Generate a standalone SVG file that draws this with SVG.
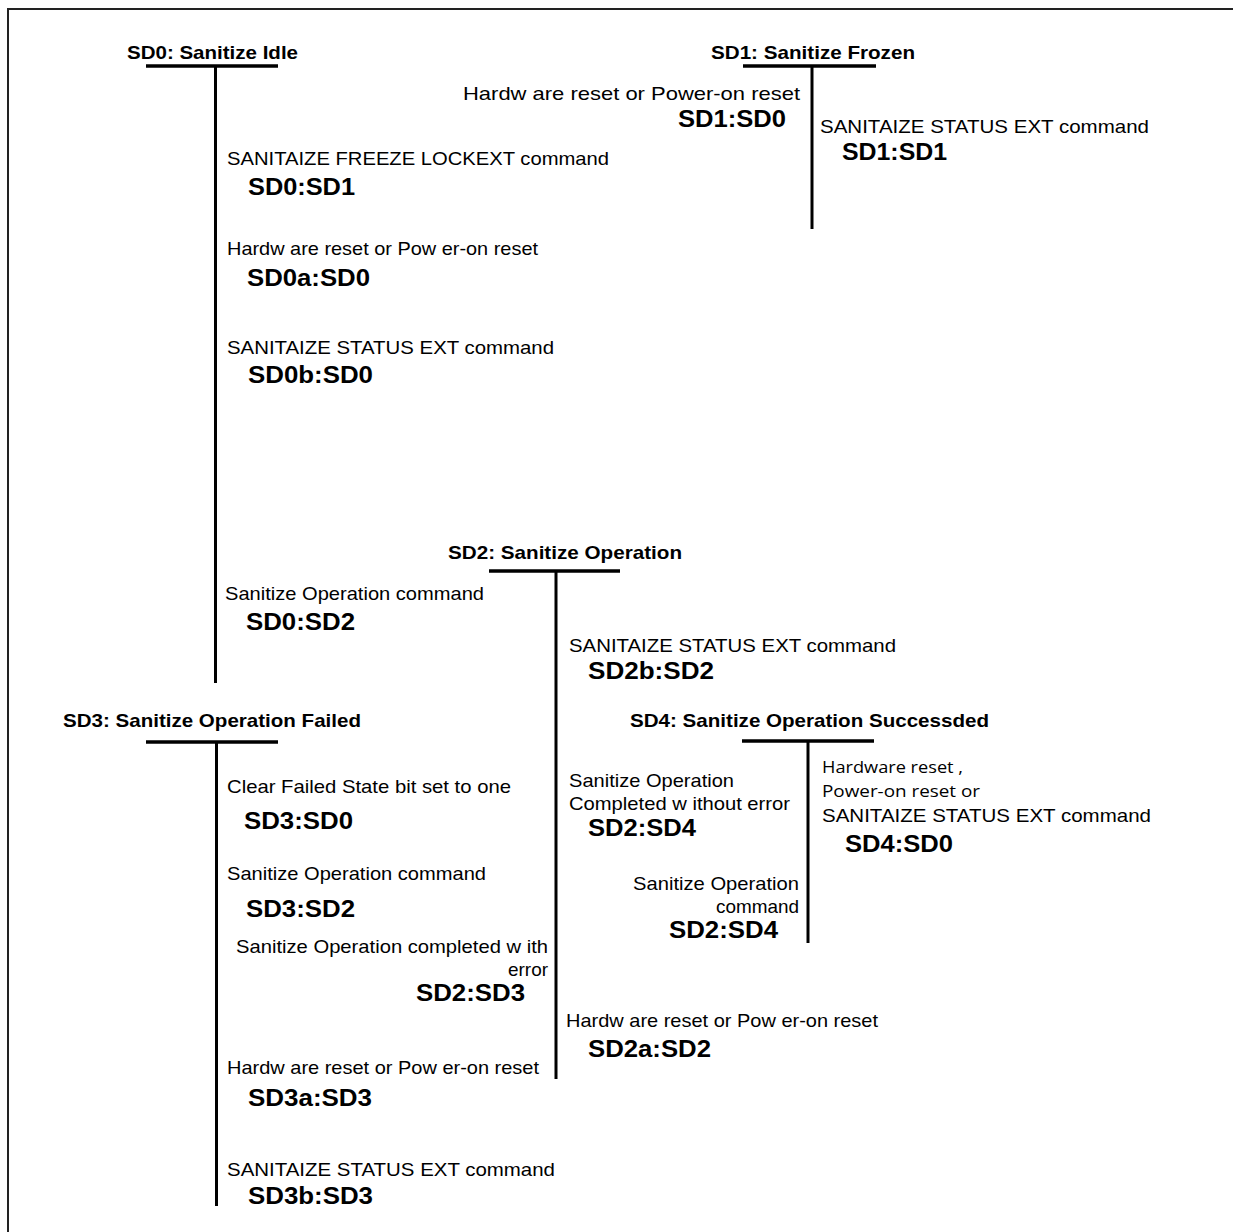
<svg xmlns="http://www.w3.org/2000/svg" width="1233" height="1232" viewBox="0 0 1233 1232">
<style>
.hd{font-family:"Liberation Sans",Arial,sans-serif;font-weight:bold;font-size:19px;fill:#000}
.t{font-family:"Liberation Sans",Arial,sans-serif;font-size:19px;fill:#000}
.c{font-family:"Open Sans","Noto Sans",sans-serif;font-size:16px;fill:#000}
.b{font-family:"Liberation Sans",Arial,sans-serif;font-weight:bold;font-size:24px;fill:#000}
.bar{stroke:#000;stroke-width:3.5;fill:none}
.ln{stroke:#000;stroke-width:3;fill:none}
</style>
<rect width="1233" height="1232" fill="#fff"/>
<path d="M8,1232 V9 H1233" fill="none" stroke="#222" stroke-width="2"/>

<g id="SD0">
<text class="hd" x="127" y="59" textLength="171" lengthAdjust="spacingAndGlyphs">SD0: Sanitize Idle</text>
<line class="bar" x1="146" y1="66" x2="278" y2="66"/>
<line class="ln" x1="215.5" y1="66" x2="215.5" y2="683"/>
</g>
<g id="SD1">
<text class="hd" x="711" y="59" textLength="204" lengthAdjust="spacingAndGlyphs">SD1: Sanitize Frozen</text>
<line class="bar" x1="743" y1="66" x2="876" y2="66"/>
<line class="ln" x1="812" y1="66" x2="812" y2="229"/>
</g>
<g id="SD2">
<text class="hd" x="448" y="559" textLength="234" lengthAdjust="spacingAndGlyphs">SD2: Sanitize Operation</text>
<line class="bar" x1="489" y1="571" x2="620" y2="571"/>
<line class="ln" x1="556" y1="571" x2="556" y2="1079"/>
</g>
<g id="SD3">
<text class="hd" x="63" y="727" textLength="298" lengthAdjust="spacingAndGlyphs">SD3: Sanitize Operation Failed</text>
<line class="bar" x1="146" y1="742" x2="278" y2="742"/>
<line class="ln" x1="216.5" y1="742" x2="216.5" y2="1206"/>
</g>
<g id="SD4">
<text class="hd" x="630" y="727" textLength="359" lengthAdjust="spacingAndGlyphs">SD4: Sanitize Operation Successded</text>
<line class="bar" x1="742" y1="741" x2="874" y2="741"/>
<line class="ln" x1="808" y1="741" x2="808" y2="943"/>
</g>

<g id="connectors">
<g id="SD0-SD1">
<text class="t" x="227" y="165" textLength="382" lengthAdjust="spacingAndGlyphs">SANITAIZE FREEZE  LOCKEXT  command</text>
<text class="b" x="248" y="195" textLength="107" lengthAdjust="spacingAndGlyphs">SD0:SD1</text>
</g>
<g id="SD0a-SD0">
<text class="t" x="227" y="255" textLength="311" lengthAdjust="spacingAndGlyphs">Hardw are reset or Pow er-on reset</text>
<text class="b" x="247" y="286" textLength="123" lengthAdjust="spacingAndGlyphs">SD0a:SD0</text>
</g>
<g id="SD0b-SD0">
<text class="t" x="227" y="354" textLength="327" lengthAdjust="spacingAndGlyphs">SANITAIZE STATUS EXT  command</text>
<text class="b" x="248" y="383" textLength="125" lengthAdjust="spacingAndGlyphs">SD0b:SD0</text>
</g>
<g id="SD1-SD0">
<text class="t" x="463" y="100" textLength="337" lengthAdjust="spacingAndGlyphs">Hardw are reset or Power-on reset</text>
<text class="b" x="678" y="127" textLength="108" lengthAdjust="spacingAndGlyphs">SD1:SD0</text>
</g>
<g id="SD1-SD1">
<text class="t" x="820" y="133" textLength="329" lengthAdjust="spacingAndGlyphs">SANITAIZE STATUS EXT command</text>
<text class="b" x="842" y="160" textLength="105" lengthAdjust="spacingAndGlyphs">SD1:SD1</text>
</g>
<g id="SD0-SD2">
<text class="t" x="225" y="600" textLength="259" lengthAdjust="spacingAndGlyphs">Sanitize Operation command</text>
<text class="b" x="246" y="630" textLength="109" lengthAdjust="spacingAndGlyphs">SD0:SD2</text>
</g>
<g id="SD2b-SD2">
<text class="t" x="569" y="652" textLength="327" lengthAdjust="spacingAndGlyphs">SANITAIZE STATUS EXT  command</text>
<text class="b" x="588" y="679" textLength="126" lengthAdjust="spacingAndGlyphs">SD2b:SD2</text>
</g>
<g id="SD2-SD4a">
<text class="t" x="569" y="787" textLength="165" lengthAdjust="spacingAndGlyphs">Sanitize Operation</text>
<text class="t" x="569" y="810" textLength="221" lengthAdjust="spacingAndGlyphs">Completed  w ithout error</text>
<text class="b" x="588" y="836" textLength="108" lengthAdjust="spacingAndGlyphs">SD2:SD4</text>
</g>
<g id="SD2-SD4b">
<text class="t" x="633" y="890" textLength="166" lengthAdjust="spacingAndGlyphs">Sanitize Operation</text>
<text class="t" x="716" y="913" textLength="83" lengthAdjust="spacingAndGlyphs">command</text>
<text class="b" x="669" y="938" textLength="109" lengthAdjust="spacingAndGlyphs">SD2:SD4</text>
</g>
<g id="SD4-SD0">
<text class="c" x="822" y="773" textLength="141" lengthAdjust="spacingAndGlyphs">Hardware reset ,</text>
<text class="c" x="822" y="797" textLength="158" lengthAdjust="spacingAndGlyphs">Power-on reset  or</text>
<text class="t" x="822" y="822" textLength="329" lengthAdjust="spacingAndGlyphs">SANITAIZE STATUS EXT command</text>
<text class="b" x="845" y="852" textLength="108" lengthAdjust="spacingAndGlyphs">SD4:SD0</text>
</g>
<g id="SD2a-SD2">
<text class="t" x="566" y="1027" textLength="312" lengthAdjust="spacingAndGlyphs">Hardw are reset or Pow er-on reset</text>
<text class="b" x="588" y="1057" textLength="123" lengthAdjust="spacingAndGlyphs">SD2a:SD2</text>
</g>
<g id="SD3-SD0">
<text class="t" x="227" y="793" textLength="284" lengthAdjust="spacingAndGlyphs">Clear Failed State bit set to one</text>
<text class="b" x="244" y="829" textLength="109" lengthAdjust="spacingAndGlyphs">SD3:SD0</text>
</g>
<g id="SD3-SD2">
<text class="t" x="227" y="880" textLength="259" lengthAdjust="spacingAndGlyphs">Sanitize Operation command</text>
<text class="b" x="246" y="917" textLength="109" lengthAdjust="spacingAndGlyphs">SD3:SD2</text>
</g>
<g id="SD2-SD3">
<text class="t" x="236" y="953" textLength="312" lengthAdjust="spacingAndGlyphs">Sanitize Operation completed w ith</text>
<text class="t" x="508" y="976" textLength="40" lengthAdjust="spacingAndGlyphs">error</text>
<text class="b" x="416" y="1001" textLength="109" lengthAdjust="spacingAndGlyphs">SD2:SD3</text>
</g>
<g id="SD3a-SD3">
<text class="t" x="227" y="1074" textLength="312" lengthAdjust="spacingAndGlyphs">Hardw are reset or Pow er-on reset</text>
<text class="b" x="248" y="1106" textLength="124" lengthAdjust="spacingAndGlyphs">SD3a:SD3</text>
</g>
<g id="SD3b-SD3">
<text class="t" x="227" y="1176" textLength="328" lengthAdjust="spacingAndGlyphs">SANITAIZE STATUS EXT  command</text>
<text class="b" x="248" y="1204" textLength="125" lengthAdjust="spacingAndGlyphs">SD3b:SD3</text>
</g>
</g>
</svg>
